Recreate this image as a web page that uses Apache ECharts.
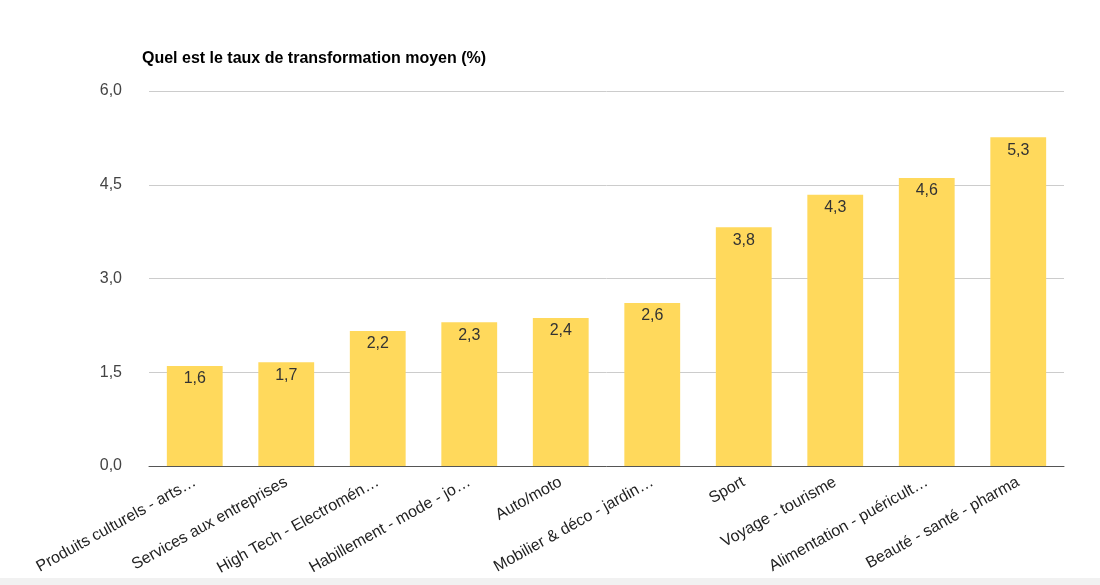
<!DOCTYPE html>
<html>
<head>
<meta charset="utf-8">
<script src="https://cdn.jsdelivr.net/npm/echarts@6/dist/echarts.min.js"></script>
<style>
  html, body { margin: 0; padding: 0; background: #fff; }
  #chart { width: 1100px; height: 585px; }
</style>
</head>
<body>
<div id="chart"></div>
<script>
var categories = [
    'Produits culturels - arts et loisirs',
    'Services aux entreprises',
    'High Tech - Electroménager',
    'Habillement - mode - joaillerie',
    'Auto/moto',
    'Mobilier & déco - jardin - bricolage',
    'Sport',
    'Voyage - tourisme',
    'Alimentation - puériculture',
    'Beauté - santé - pharma'
];
var values = [1.6, 1.66, 2.16, 2.3, 2.37, 2.61, 3.82, 4.34, 4.61, 5.26];   // hauteurs
var yTicks = [0, 1.5, 3, 4.5, 6];

function frNum(v) {
    return v.toFixed(1).replace('.', ',');
}

var myChart = echarts.init(document.getElementById('chart'));

var option = {
    animation: false,
    title: {
        text: 'Quel est le taux de transformation moyen (%)',
        left: 137,
        top: 46,
        textStyle: {
            fontFamily: 'Liberation Sans, Arial',
            fontSize: 16,
            fontWeight: 'bold',
            color: '#000'
        }
    },
    grid: {
        left: 149,
        right: 36,
        top: 91,
        bottom: 119
    },
    xAxis: {
        type: 'category',
        data: categories,
        axisTick: { show: false },
        axisLine: { lineStyle: { color: '#555', width: 1 } },
        axisLabel: {
            interval: 0,
            rotate: 29,
            margin: 15,
            width: 186,
            overflow: 'truncate',
            ellipsis: '…',
            fontFamily: 'Liberation Sans, Arial',
            fontSize: 16,
            color: '#222'
        }
    },
    yAxis: {
        type: 'value',
        min: 0,
        max: 6,
        interval: 1.5,
        axisLine: { show: false },
        axisTick: { show: false },
        splitLine: { lineStyle: { color: '#cccccc' } },
        axisLabel: {
            margin: 27,
            fontFamily: 'Liberation Sans, Arial',
            fontSize: 16,
            color: '#444',
            formatter: function (v) {
                return yTicks.indexOf(v) >= 0 ? frNum(v) : '';
            }
        }
    },
    series: [{
        type: 'bar',
        data: values,
        barWidth: '61%',
        itemStyle: { color: '#FFD95C' },
        label: {
            show: true,
            position: 'insideTop',
            distance: 5,
            fontFamily: 'Liberation Sans, Arial',
            fontSize: 16,
            color: '#333',
            formatter: function (p) { return frNum(p.value); }
        }
    }],
    graphic: [{
        type: 'rect',
        left: 0,
        bottom: 0,
        shape: { width: 1100, height: 7 },
        style: { fill: '#f1f1f1' },
        silent: true
    }]
};

myChart.setOption(option);
</script>
</body>
</html>
